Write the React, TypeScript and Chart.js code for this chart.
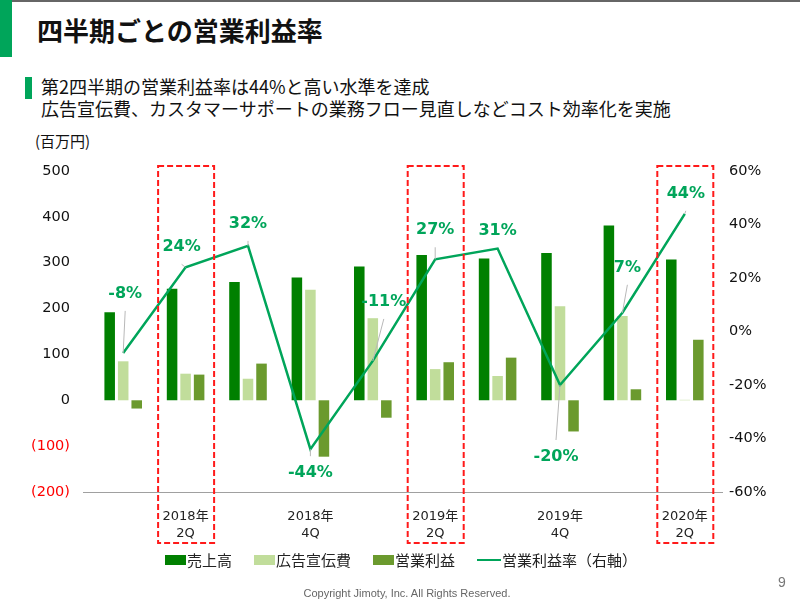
import React, { useEffect, useRef } from "react";
import { Chart, registerables } from "chart.js";

Chart.register(...registerables);

// ---- data ----
const quarters = [
  "2018年1Q", "2018年2Q", "2018年3Q", "2018年4Q", "2019年1Q",
  "2019年2Q", "2019年3Q", "2019年4Q", "2020年1Q", "2020年2Q",
];
const tickLabels: (string | string[])[] = [
  "", ["2018年", "2Q"], "", ["2018年", "4Q"], "",
  ["2019年", "2Q"], "", ["2019年", "4Q"], "", ["2020年", "2Q"],
];
const sales = [192, 243, 258, 268, 292, 317, 309, 321, 381, 307];
const adCost = [85, 58, 47, 241, 179, 68, 53, 205, 184, 1];
const opProfit = [-18, 56, 80, -123, -38, 83, 93, -68, 24, 132];
const opMargin = [-8, 24, 32, -44, -11, 27, 31, -20, 7, 44];
const highlighted = [1, 5, 9];

// label placement (offset of label centre from its point, px)
const labelOffsets: [number, number][] = [
  [2, -59], [-4, -20], [0, -22], [0, 24], [11, -59],
  [0, -29], [0, -18], [-4, 72], [5, -45], [1, -20],
];

const GREEN = "#00a55a";
const DARK = "#008000";
const LIGHT = "#c1dd9b";
const MID = "#6b9a2e";

const decorPlugin = {
  id: "decor",
  beforeDatasetsDraw(chart: any) {
    const { ctx, chartArea, scales } = chart;
    ctx.save();
    // baseline
    ctx.strokeStyle = "#a0a0a0";
    ctx.lineWidth = 1;
    ctx.beginPath();
    ctx.moveTo(chartArea.left - 9, chartArea.bottom + 0.5);
    ctx.lineTo(chartArea.right + 7, chartArea.bottom + 0.5);
    ctx.stroke();
    ctx.restore();
  },
  afterDatasetsDraw(chart: any) {
    const { ctx, chartArea, scales } = chart;
    const meta = chart.getDatasetMeta(3);
    ctx.save();
    // red dashed highlight boxes
    ctx.strokeStyle = "#ff1a1a";
    ctx.lineWidth = 2;
    ctx.setLineDash([6, 3]);
    highlighted.forEach((i) => {
      const cx = scales.x.getPixelForValue(i);
      ctx.strokeRect(cx - 27.5, chartArea.top - 5, 56, chartArea.bottom - chartArea.top + 56);
    });
    ctx.setLineDash([]);
    // labels with leader lines
    ctx.font = 'bold 16px "DejaVu Sans"';
    ctx.textAlign = "center";
    ctx.textBaseline = "middle";
    meta.data.forEach((pt: any, i: number) => {
      const [dx, dy] = labelOffsets[i];
      const tx = pt.x + dx;
      const ty = pt.y + dy;
      const sy = ty + (dy < 0 ? 17 : -17);
      if (Math.abs(pt.y - sy) > 2 && Math.sign(pt.y - sy) === Math.sign(-dy)) {
        ctx.strokeStyle = "#b8b8b8";
        ctx.lineWidth = 1;
        ctx.beginPath();
        ctx.moveTo(tx, sy);
        ctx.lineTo(pt.x, pt.y);
        ctx.stroke();
      }
      ctx.fillStyle = GREEN;
      ctx.fillText(`${opMargin[i]}%`, tx, ty);
    });
    ctx.restore();
  },
};

export default function App() {
  const ref = useRef<HTMLCanvasElement>(null);
  useEffect(() => {
    document.body.style.margin = "0";
    const chart = new Chart(ref.current!, {
      type: "bar",
      data: {
        labels: quarters,
        datasets: [
          { label: "売上高", data: sales, backgroundColor: DARK, yAxisID: "y", order: 1 },
          { label: "広告宣伝費", data: adCost, backgroundColor: LIGHT, yAxisID: "y", order: 1 },
          { label: "営業利益", data: opProfit, backgroundColor: MID, yAxisID: "y", order: 1 },
          {
            type: "line",
            label: "営業利益率（右軸）",
            data: opMargin,
            borderColor: GREEN,
            backgroundColor: GREEN,
            borderWidth: 2.5,
            pointRadius: 0,
            tension: 0,
            yAxisID: "y1",
            order: 0,
          } as any,
        ],
      },
      options: {
        responsive: false,
        animation: false,
        layout: { padding: { top: 171, left: 0, right: 0, bottom: 0 } },
        datasets: { bar: { categoryPercentage: 0.65, barPercentage: 0.78 } } as any,
        plugins: { legend: { display: false }, tooltip: { enabled: false } },
        scales: {
          x: {
            grid: { display: false },
            border: { display: false },
            afterFit: (s: any) => { s.height = 111; },
            ticks: {
              autoSkip: false,
              maxRotation: 0,
              padding: 8,
              color: "#222",
              font: { family: '"DejaVu Sans", "Noto Sans CJK JP"', size: 13, lineHeight: 1.3 },
              callback: (_v: any, i: number) => tickLabels[i],
            },
          },
          y: {
            position: "left",
            min: -200,
            max: 500,
            grid: { display: false, drawTicks: false },
            border: { display: false },
            afterFit: (s: any) => { s.width = 92; },
            ticks: {
              stepSize: 100,
              padding: 22,
              font: { family: '"DejaVu Sans"', size: 14.5 },
              color: (c: any) => (c.tick && c.tick.value < 0 ? "#ff0000" : "#111"),
              callback: (v: any) => (v < 0 ? `(${-v})` : `${v}`),
            },
          },
          y1: {
            position: "right",
            min: -60,
            max: 60,
            grid: { display: false, drawTicks: false },
            border: { display: false },
            afterFit: (s: any) => { s.width = 84; },
            ticks: {
              stepSize: 20,
              padding: 13,
              color: "#111",
              font: { family: '"DejaVu Sans"', size: 14.5 },
              callback: (v: any) => `${v}%`,
            },
          },
        },
      } as any,
      plugins: [decorPlugin],
    });
    return () => chart.destroy();
  }, []);

  const jp = '"Noto Sans CJK JP", sans-serif';
  const legendItems = [
    { label: "売上高", color: DARK, line: false },
    { label: "広告宣伝費", color: LIGHT, line: false },
    { label: "営業利益", color: MID, line: false },
    { label: "営業利益率（右軸）", color: GREEN, line: true },
  ];

  return (
    <div style={{ position: "fixed", left: 0, top: 0, width: 800, height: 603, background: "#fff", overflow: "hidden", fontFamily: jp }}>
      <div style={{ position: "absolute", left: 0, top: 0, width: 800, height: 2, background: "#666" }} />
      <div style={{ position: "absolute", left: 0, top: 0, width: 12, height: 57, background: GREEN }} />
      <div style={{ position: "absolute", left: 37, top: 12, fontSize: 26, fontWeight: 700, color: "#111", lineHeight: "36px", whiteSpace: "nowrap" }}>
        四半期ごとの営業利益率
      </div>
      <div style={{ position: "absolute", left: 25, top: 77, width: 7, height: 22, background: GREEN }} />
      <div style={{ position: "absolute", left: 41, top: 75, fontSize: 18, color: "#111", lineHeight: "22px", whiteSpace: "nowrap" }}>
        第2四半期の営業利益率は44%と高い水準を達成
        <br />
        広告宣伝費、カスタマーサポートの業務フロー見直しなどコスト効率化を実施
      </div>
      <div style={{ position: "absolute", left: 35, top: 131, fontSize: 15, color: "#111", lineHeight: "20px", whiteSpace: "nowrap" }}>
        (百万円)
      </div>
      <canvas ref={ref} width={800} height={603} style={{ position: "absolute", left: 0, top: 0, width: 800, height: 603 }} />
      <div style={{ position: "absolute", left: 165, top: 549, height: 22, display: "flex", alignItems: "center", whiteSpace: "nowrap" }}>
        {legendItems.map((it, i) => (
          <div key={i} style={{ display: "flex", alignItems: "center", marginRight: 22 }}>
            {it.line ? (
              <div style={{ width: 24, height: 2.5, background: it.color, marginRight: 1 }} />
            ) : (
              <div style={{ width: 21, height: 10, background: it.color, marginRight: 1 }} />
            )}
            <span style={{ fontSize: 15, color: "#222", lineHeight: "22px" }}>{it.label}</span>
          </div>
        ))}
      </div>
      <div style={{ position: "absolute", left: 0, width: 814, top: 585, textAlign: "center", fontSize: 11, color: "#666", fontFamily: '"Liberation Sans", sans-serif', lineHeight: "16px" }}>
        Copyright Jimoty, Inc. All Rights Reserved.
      </div>
      <div style={{ position: "absolute", left: 778, top: 573, fontSize: 14, color: "#777", fontFamily: '"Liberation Sans", sans-serif', lineHeight: "18px" }}>
        9
      </div>
    </div>
  );
}
